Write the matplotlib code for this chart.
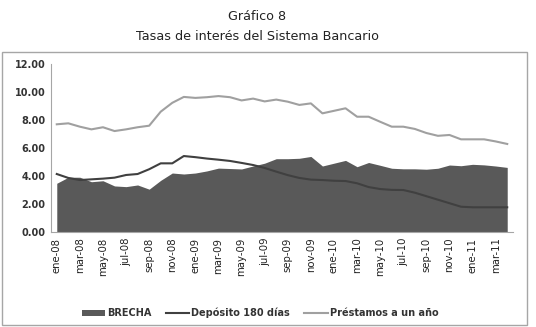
import matplotlib
matplotlib.use("Agg")
from matplotlib import pyplot as plt
from matplotlib.patches import Rectangle, Patch
from matplotlib.lines import Line2D
import numpy as np

# Meses ene-08 .. abr-11
meses = ['ene', 'feb', 'mar', 'abr', 'may', 'jun', 'jul', 'ago', 'sep', 'oct', 'nov', 'dic']
fechas = [f"{m}-{y:02d}" for y in (8, 9, 10, 11) for m in meses][:40]

brecha = [3.47, 3.90, 3.90, 3.58, 3.65, 3.28, 3.23, 3.35, 3.05, 3.68,
          4.20, 4.13, 4.20, 4.35, 4.55, 4.52, 4.49, 4.70, 4.90, 5.22,
          5.22, 5.25, 5.38, 4.70, 4.90, 5.10, 4.65, 4.95, 4.75, 4.54,
          4.50, 4.50, 4.47, 4.54, 4.77, 4.72, 4.82, 4.78, 4.70, 4.60]

deposito = [4.13, 3.85, 3.70, 3.75, 3.80, 3.87, 4.06, 4.13, 4.47, 4.89,
            4.89, 5.41, 5.33, 5.23, 5.15, 5.06, 4.92, 4.77, 4.56, 4.30,
            4.05, 3.85, 3.73, 3.70, 3.65, 3.63, 3.47, 3.20, 3.06, 3.00,
            2.99, 2.80, 2.55, 2.30, 2.05, 1.80, 1.76, 1.76, 1.76, 1.76]

prestamos = [7.67, 7.74, 7.50, 7.31, 7.46, 7.19, 7.31, 7.46, 7.57, 8.57,
             9.20, 9.62, 9.55, 9.60, 9.68, 9.60, 9.37, 9.50, 9.30, 9.43,
             9.28, 9.05, 9.16, 8.45, 8.63, 8.81, 8.21, 8.21, 7.85, 7.50,
             7.50, 7.34, 7.05, 6.85, 6.91, 6.60, 6.60, 6.60, 6.45, 6.27]

W, H = 536, 327
fig = plt.figure(figsize=(W / 100, H / 100), dpi=100)

# marco del grafico
fig.patches.append(Rectangle((2 / W, 2 / H), 525 / W, 273 / H, transform=fig.transFigure,
                             fill=False, edgecolor='#a6a6a6', linewidth=1.0))

fig.text(257 / W, 1 - 17 / H, "Gráfico 8", ha='center', va='center', fontsize=9.2, color='#222222')
fig.text(257 / W, 1 - 36 / H, "Tasas de interés del Sistema Bancario", ha='center', va='center',
         fontsize=9.2, color='#222222')

ax = fig.add_axes([51 / W, (H - 232) / H, (513 - 51) / W, (232 - 63.5) / H])
x = np.arange(len(fechas))

ax.fill_between(x, 0, brecha, color='#595959', linewidth=0)
ax.plot(x, deposito, color='#404040', linewidth=1.5)
ax.plot(x, prestamos, color='#a0a0a0', linewidth=1.5)

ax.set_xlim(-0.5, len(fechas) - 0.5)
ax.set_ylim(0, 12)
ax.set_yticks(np.arange(0, 12.1, 2))
ax.set_yticklabels([f"{v:.2f}" for v in np.arange(0, 12.1, 2)], fontsize=7, fontweight='bold', color='#333333')
ax.set_xticks(x[::2])
ax.set_xticklabels(fechas[::2], rotation=90, fontsize=7.3, color='#222222')
ax.tick_params(length=0, pad=4)
for s in ['top', 'right']:
    ax.spines[s].set_visible(False)
for s in ['left', 'bottom']:
    ax.spines[s].set_color('#a6a6a6')

handles = [Patch(facecolor='#595959', edgecolor='none'),
           Line2D([], [], color='#404040', linewidth=1.5),
           Line2D([], [], color='#a0a0a0', linewidth=1.5)]
labels = ['BRECHA', 'Depósito 180 días', 'Préstamos a un año']
fig.legend(handles, labels, loc='center', bbox_to_anchor=(260 / W, 1 - 313 / H), ncol=3,
           frameon=False, prop={'size': 7, 'weight': 'bold'}, handlelength=2.4,
           handleheight=0.6, handletextpad=0.2, columnspacing=1.5, labelcolor='#333333')

fig.savefig('out.png', dpi=100)
